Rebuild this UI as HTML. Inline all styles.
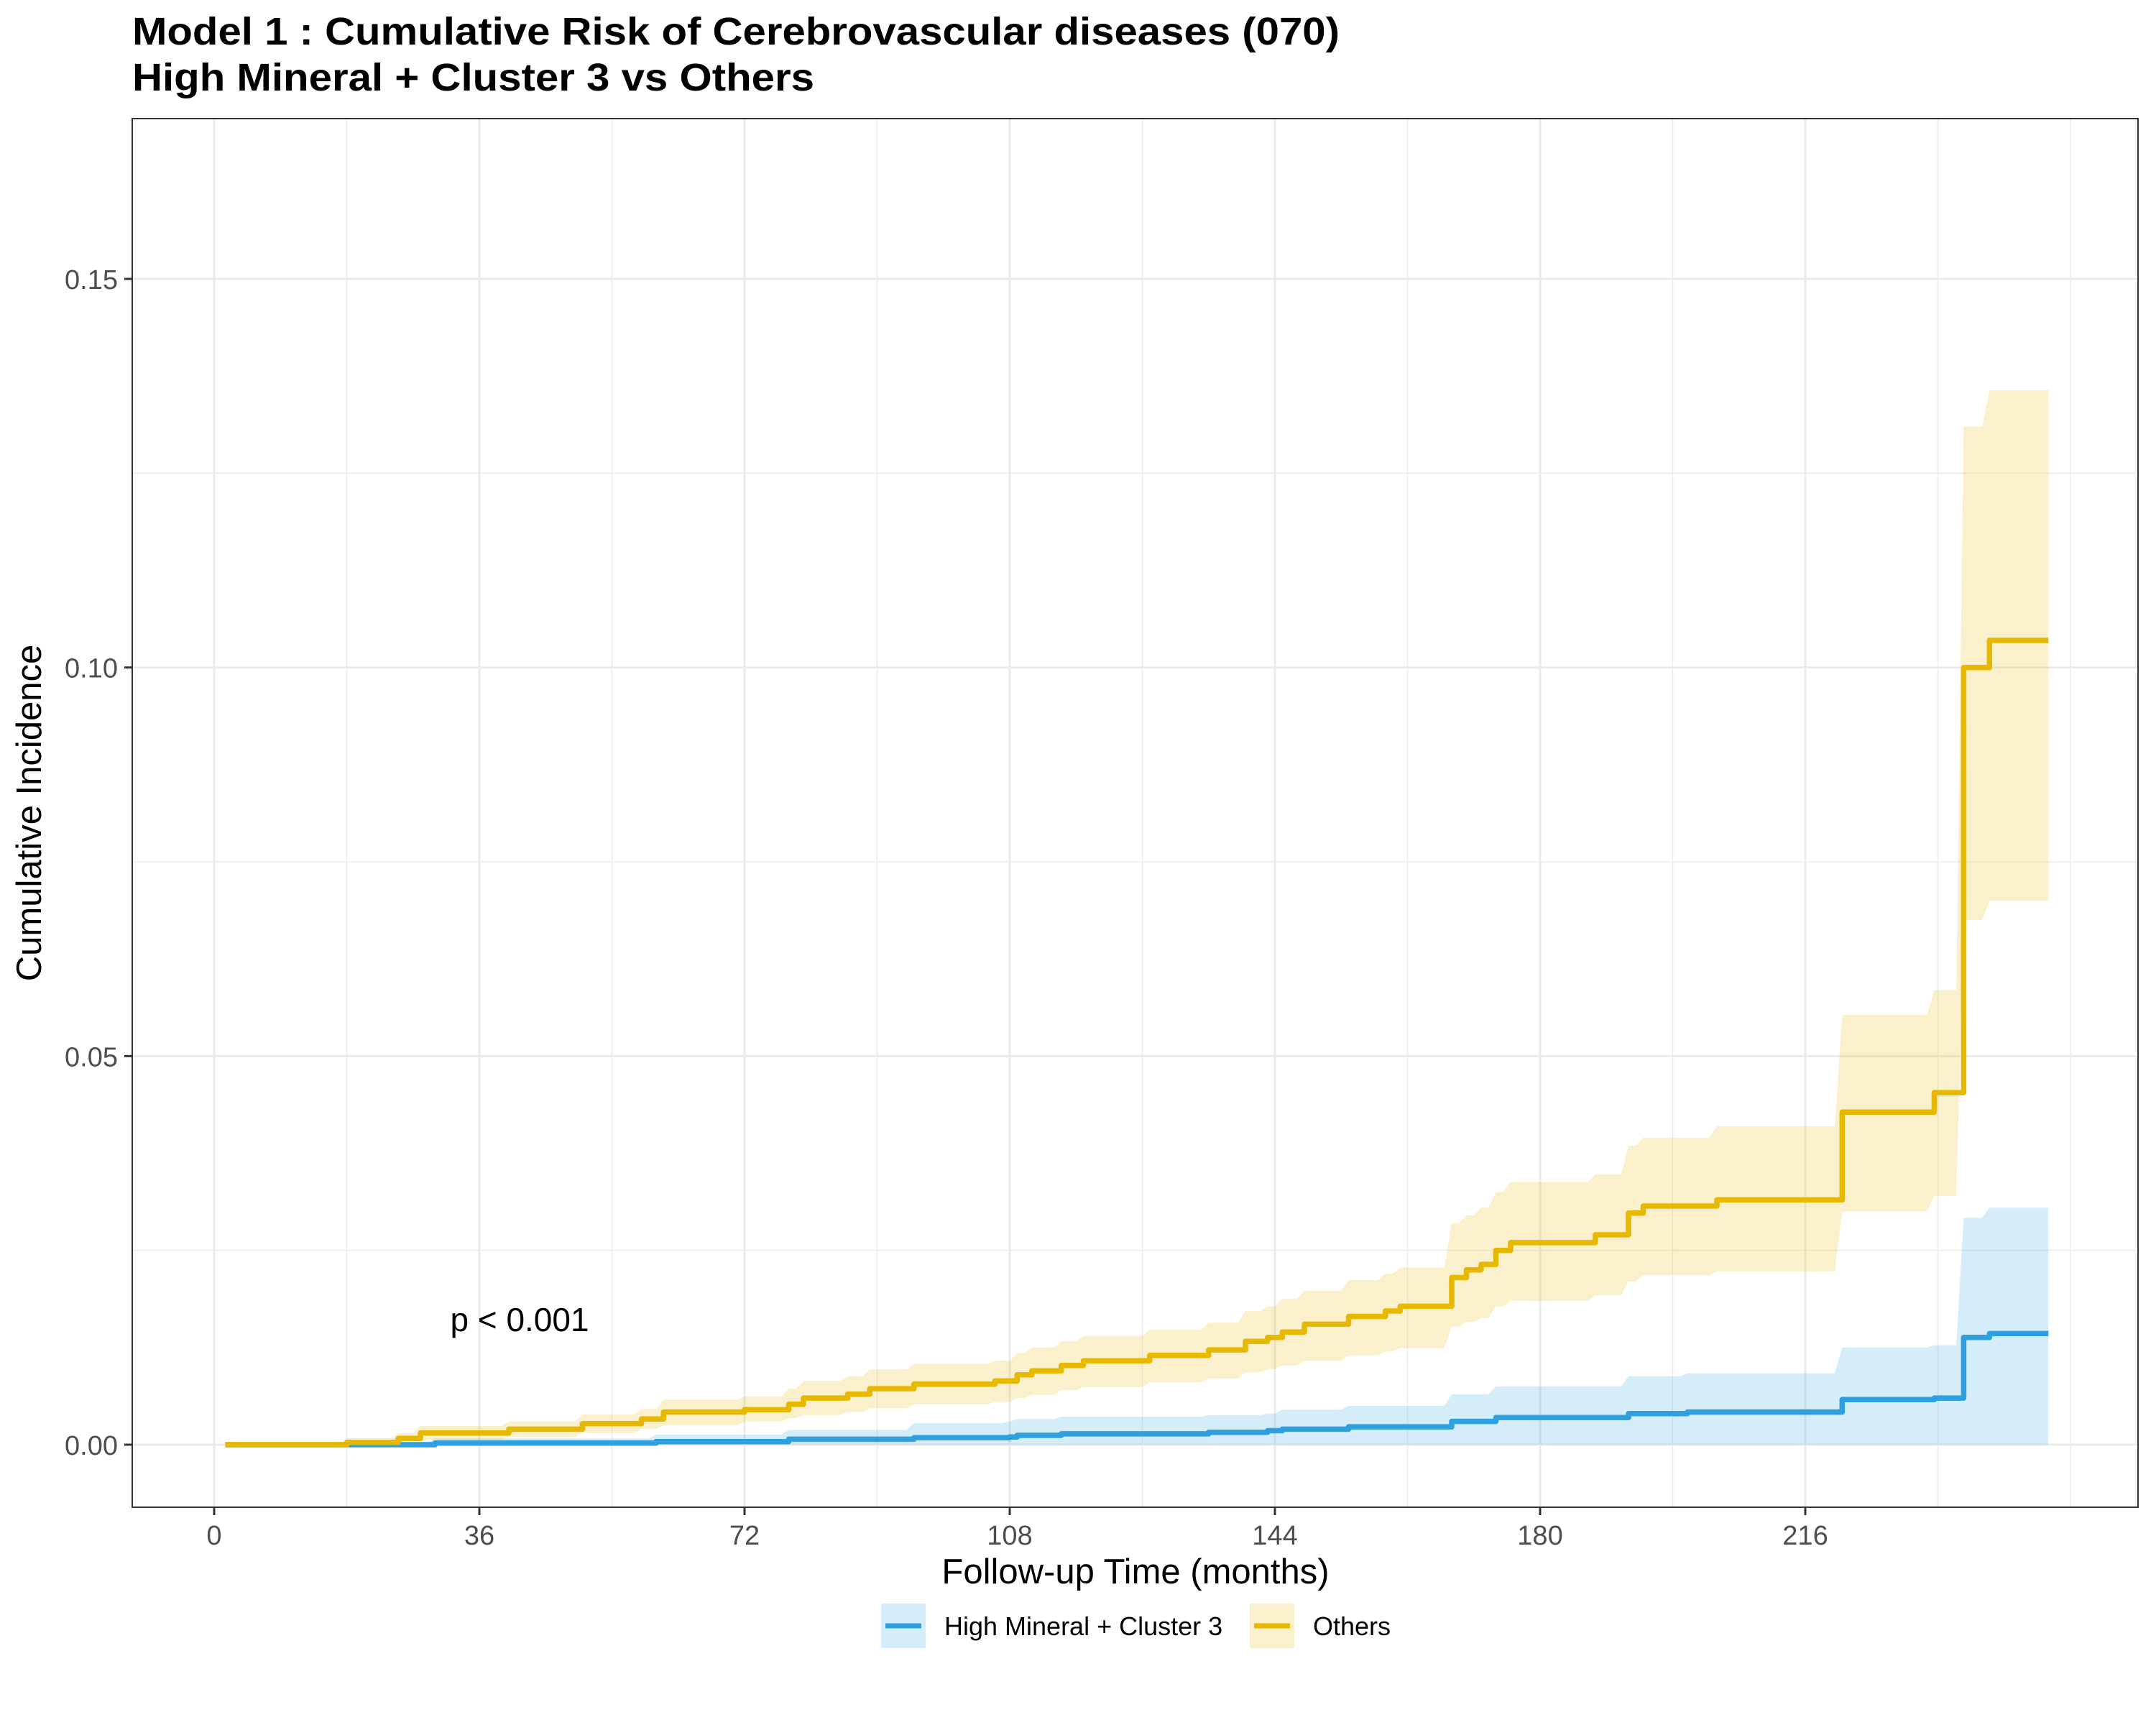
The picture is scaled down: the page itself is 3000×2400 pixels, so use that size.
<!DOCTYPE html>
<html><head><meta charset="utf-8"><style>
html,body{margin:0;padding:0;background:#fff;}
svg{display:block;font-family:"Liberation Sans",Arial,sans-serif;}
</style></head><body>
<svg id="chart" width="3000" height="2400" viewBox="0 0 3000 2400" xmlns="http://www.w3.org/2000/svg">
<rect x="0" y="0" width="3000" height="2400" fill="#fff"/>
<text x="184" y="62" font-size="54" font-weight="bold" fill="#000" textLength="1680" lengthAdjust="spacingAndGlyphs">Model 1 : Cumulative Risk of Cerebrovascular diseases (070)</text>
<text x="184" y="126" font-size="54" font-weight="bold" fill="#000" textLength="949" lengthAdjust="spacingAndGlyphs">High Mineral + Cluster 3 vs Others</text>
<g id="grid"></g>
<g id="ribbons"></g>
<g id="lines"></g>
<rect x="184" y="165" width="2791" height="1932" fill="none" stroke="#333" stroke-width="2"/>
<g id="axes"></g>
<text x="723" y="1852" font-size="46" text-anchor="middle" fill="#000">p &lt; 0.001</text>
<text x="1580" y="2203" font-size="49" text-anchor="middle" fill="#000">Follow-up Time (months)</text>
<text x="0" y="0" font-size="49" text-anchor="middle" fill="#000" transform="translate(57,1131) rotate(-90)">Cumulative Incidence</text>
<g>
  <g>
    <rect x="1226" y="2231" width="62" height="62" fill="#2E9FDF" fill-opacity="0.2"/>
    <line x1="1232" y1="2262" x2="1282" y2="2262" stroke="#2E9FDF" stroke-width="7"/>
    <text x="1314" y="2275" font-size="36" fill="#000">High Mineral + Cluster 3</text>
  </g>
  <g>
    <rect x="1739" y="2231" width="62" height="62" fill="#E7B800" fill-opacity="0.2"/>
    <line x1="1745" y1="2262" x2="1795" y2="2262" stroke="#E7B800" stroke-width="7"/>
    <text x="1827" y="2275" font-size="36" fill="#000">Others</text>
  </g>
</g>
</svg>
<script>
// ---- data ----
const othersTimes = [1.5, 18, 25, 28, 40, 50, 58, 61, 72, 78, 80, 86, 89, 95, 106, 109, 111, 115, 118, 127, 135, 140, 143, 145, 148, 154, 159, 161, 168, 170, 172, 174, 176, 187.5, 192, 194, 204, 221, 233.5, 237.5, 241];
const othersEst   = [0, 0.0003, 0.0008, 0.0015, 0.002, 0.0027, 0.0033, 0.0042, 0.0045, 0.0052, 0.006, 0.0065, 0.0072, 0.0078, 0.0082, 0.009, 0.0095, 0.0102, 0.0108, 0.0115, 0.0122, 0.0133, 0.0138, 0.0145, 0.0155, 0.0165, 0.0172, 0.0178, 0.0215, 0.0225, 0.0232, 0.025, 0.026, 0.027, 0.0298, 0.0307, 0.0315, 0.0428, 0.0453, 0.1, 0.1035];
const othersLower = [0, 0, 0.0002, 0.0006, 0.001, 0.0015, 0.002, 0.0025, 0.003, 0.0034, 0.0038, 0.0042, 0.0047, 0.0052, 0.0055, 0.006, 0.0064, 0.007, 0.0074, 0.008, 0.0085, 0.0093, 0.0097, 0.0102, 0.0108, 0.0115, 0.012, 0.0124, 0.0152, 0.0158, 0.0163, 0.0178, 0.0185, 0.0192, 0.021, 0.0218, 0.0223, 0.030, 0.032, 0.0675, 0.070];
const othersUpper = [0, 0.0008, 0.0015, 0.0024, 0.003, 0.0039, 0.0046, 0.0058, 0.0062, 0.0072, 0.0082, 0.0088, 0.0097, 0.0104, 0.0108, 0.0118, 0.0125, 0.0133, 0.014, 0.0148, 0.0157, 0.0172, 0.0178, 0.0188, 0.0198, 0.0212, 0.022, 0.0228, 0.0285, 0.0295, 0.0305, 0.0325, 0.0338, 0.0348, 0.0385, 0.0395, 0.041, 0.0553, 0.0585, 0.131, 0.1357];
const highTimes = [1.5, 20, 30, 60, 78, 95, 108, 109, 115, 135, 143, 145, 154, 168, 174, 192, 200, 221, 233.5, 237.5, 241];
const highEst   = [0, 0, 0.0002, 0.0004, 0.0007, 0.0009, 0.001, 0.0012, 0.0014, 0.0016, 0.0018, 0.002, 0.0023, 0.003, 0.0035, 0.004, 0.0042, 0.0058, 0.006, 0.0138, 0.0143];
const highLower = [0, 0, 0, 0, 0, 0, 0, 0, 0, 0, 0, 0, 0, 0, 0, 0, 0, 0, 0, 0, 0];
const highUpper = [0, 0.0003, 0.0008, 0.0013, 0.0019, 0.0028, 0.003, 0.0033, 0.0036, 0.0038, 0.004, 0.0045, 0.005, 0.0065, 0.0075, 0.0088, 0.0092, 0.0125, 0.0128, 0.0292, 0.0305];
const endTime = 249;
const xTicks = [0, 36, 72, 108, 144, 180, 216];
const xMinor = [18, 54, 90, 126, 162, 198, 234, 252];
const yTicks = [0, 0.05, 0.10, 0.15];
const yTickLabels = ["0.00", "0.05", "0.10", "0.15"];
const yMinor = [0.025, 0.075, 0.125];

// ---- scales ----
const X0 = 298, XPM = 10.25;
const Y0 = 2010, YPU = 10813;
const PL = 184, PR = 2975, PT = 165, PB = 2097;
function xs(t){ return X0 + t * XPM; }
function ys(v){ return Y0 - v * YPU; }
const NS = "http://www.w3.org/2000/svg";
function mk(tag, attrs, parent){
  const e = document.createElementNS(NS, tag);
  for (const k in attrs) e.setAttribute(k, attrs[k]);
  parent.appendChild(e);
  return e;
}
const grid = document.getElementById('grid');
const axes = document.getElementById('axes');
const ribbons = document.getElementById('ribbons');
const lines = document.getElementById('lines');

yMinor.forEach(v => {
  const l = mk('line', {x1: PL, x2: PR, y1: ys(v), y2: ys(v), stroke: '#ebebeb', 'stroke-width': 1.5}, grid);
  
  
});
xMinor.forEach(t => {
  const l = mk('line', {x1: xs(t), x2: xs(t), y1: PT, y2: PB, stroke: '#ebebeb', 'stroke-width': 1.5}, grid);
  
  
});
yTicks.forEach((v, i) => {
  const l = mk('line', {x1: PL, x2: PR, y1: ys(v), y2: ys(v), stroke: '#ebebeb', 'stroke-width': 3}, grid);
  
  
  const tk = mk('line', {x1: PL - 11, x2: PL, y1: ys(v), y2: ys(v), stroke: '#333', 'stroke-width': 3}, axes);
  
  
  const tx = mk('text', {x: PL - 20, y: ys(v) + 14, 'font-size': 38, 'text-anchor': 'end', fill: '#4d4d4d'}, axes);
  tx.textContent = yTickLabels[i];
  
  
});
xTicks.forEach(t => {
  const l = mk('line', {x1: xs(t), x2: xs(t), y1: PT, y2: PB, stroke: '#ebebeb', 'stroke-width': 3}, grid);
  
  
  const tk = mk('line', {x1: xs(t), x2: xs(t), y1: PB, y2: PB + 11, stroke: '#333', 'stroke-width': 3}, axes);
  
  
  const tx = mk('text', {x: xs(t), y: PB + 52, 'font-size': 38, 'text-anchor': 'middle', fill: '#4d4d4d'}, axes);
  tx.textContent = String(t);
  
  
});

function ribbonPath(times, lo, hi){
  const n = times.length, up = [], dn = [];
  for (let i = 0; i < n; i++){
    const t0 = times[i];
    const t1 = i < n - 1 ? Math.max(t0, times[i+1] - 1) : endTime;
    up.push([xs(t0), ys(hi[i])], [xs(t1), ys(hi[i])]);
    dn.push([xs(t0), ys(lo[i])], [xs(t1), ys(lo[i])]);
  }
  const pts = up.concat(dn.reverse());
  return 'M' + pts.map(p => p[0].toFixed(1) + ',' + p[1].toFixed(1)).join('L') + 'Z';
}
function stepPath(times, est){
  let d = 'M' + xs(times[0]).toFixed(1) + ',' + ys(est[0]).toFixed(1);
  for (let i = 1; i < times.length; i++){
    d += 'H' + xs(times[i]).toFixed(1) + 'V' + ys(est[i]).toFixed(1);
  }
  d += 'H' + xs(endTime).toFixed(1);
  return d;
}
const r1 = mk('path', {d: ribbonPath(highTimes, highLower, highUpper), fill: '#2E9FDF', 'fill-opacity': 0.2}, ribbons);


const r2 = mk('path', {d: ribbonPath(othersTimes, othersLower, othersUpper), fill: '#E7B800', 'fill-opacity': 0.2}, ribbons);


const l1 = mk('path', {d: stepPath(highTimes, highEst), fill: 'none', stroke: '#2E9FDF', 'stroke-width': 7.5, 'stroke-linejoin': 'round'}, lines);


const l2 = mk('path', {d: stepPath(othersTimes, othersEst), fill: 'none', stroke: '#E7B800', 'stroke-width': 7.5, 'stroke-linejoin': 'round'}, lines);


</script>
</body></html>
